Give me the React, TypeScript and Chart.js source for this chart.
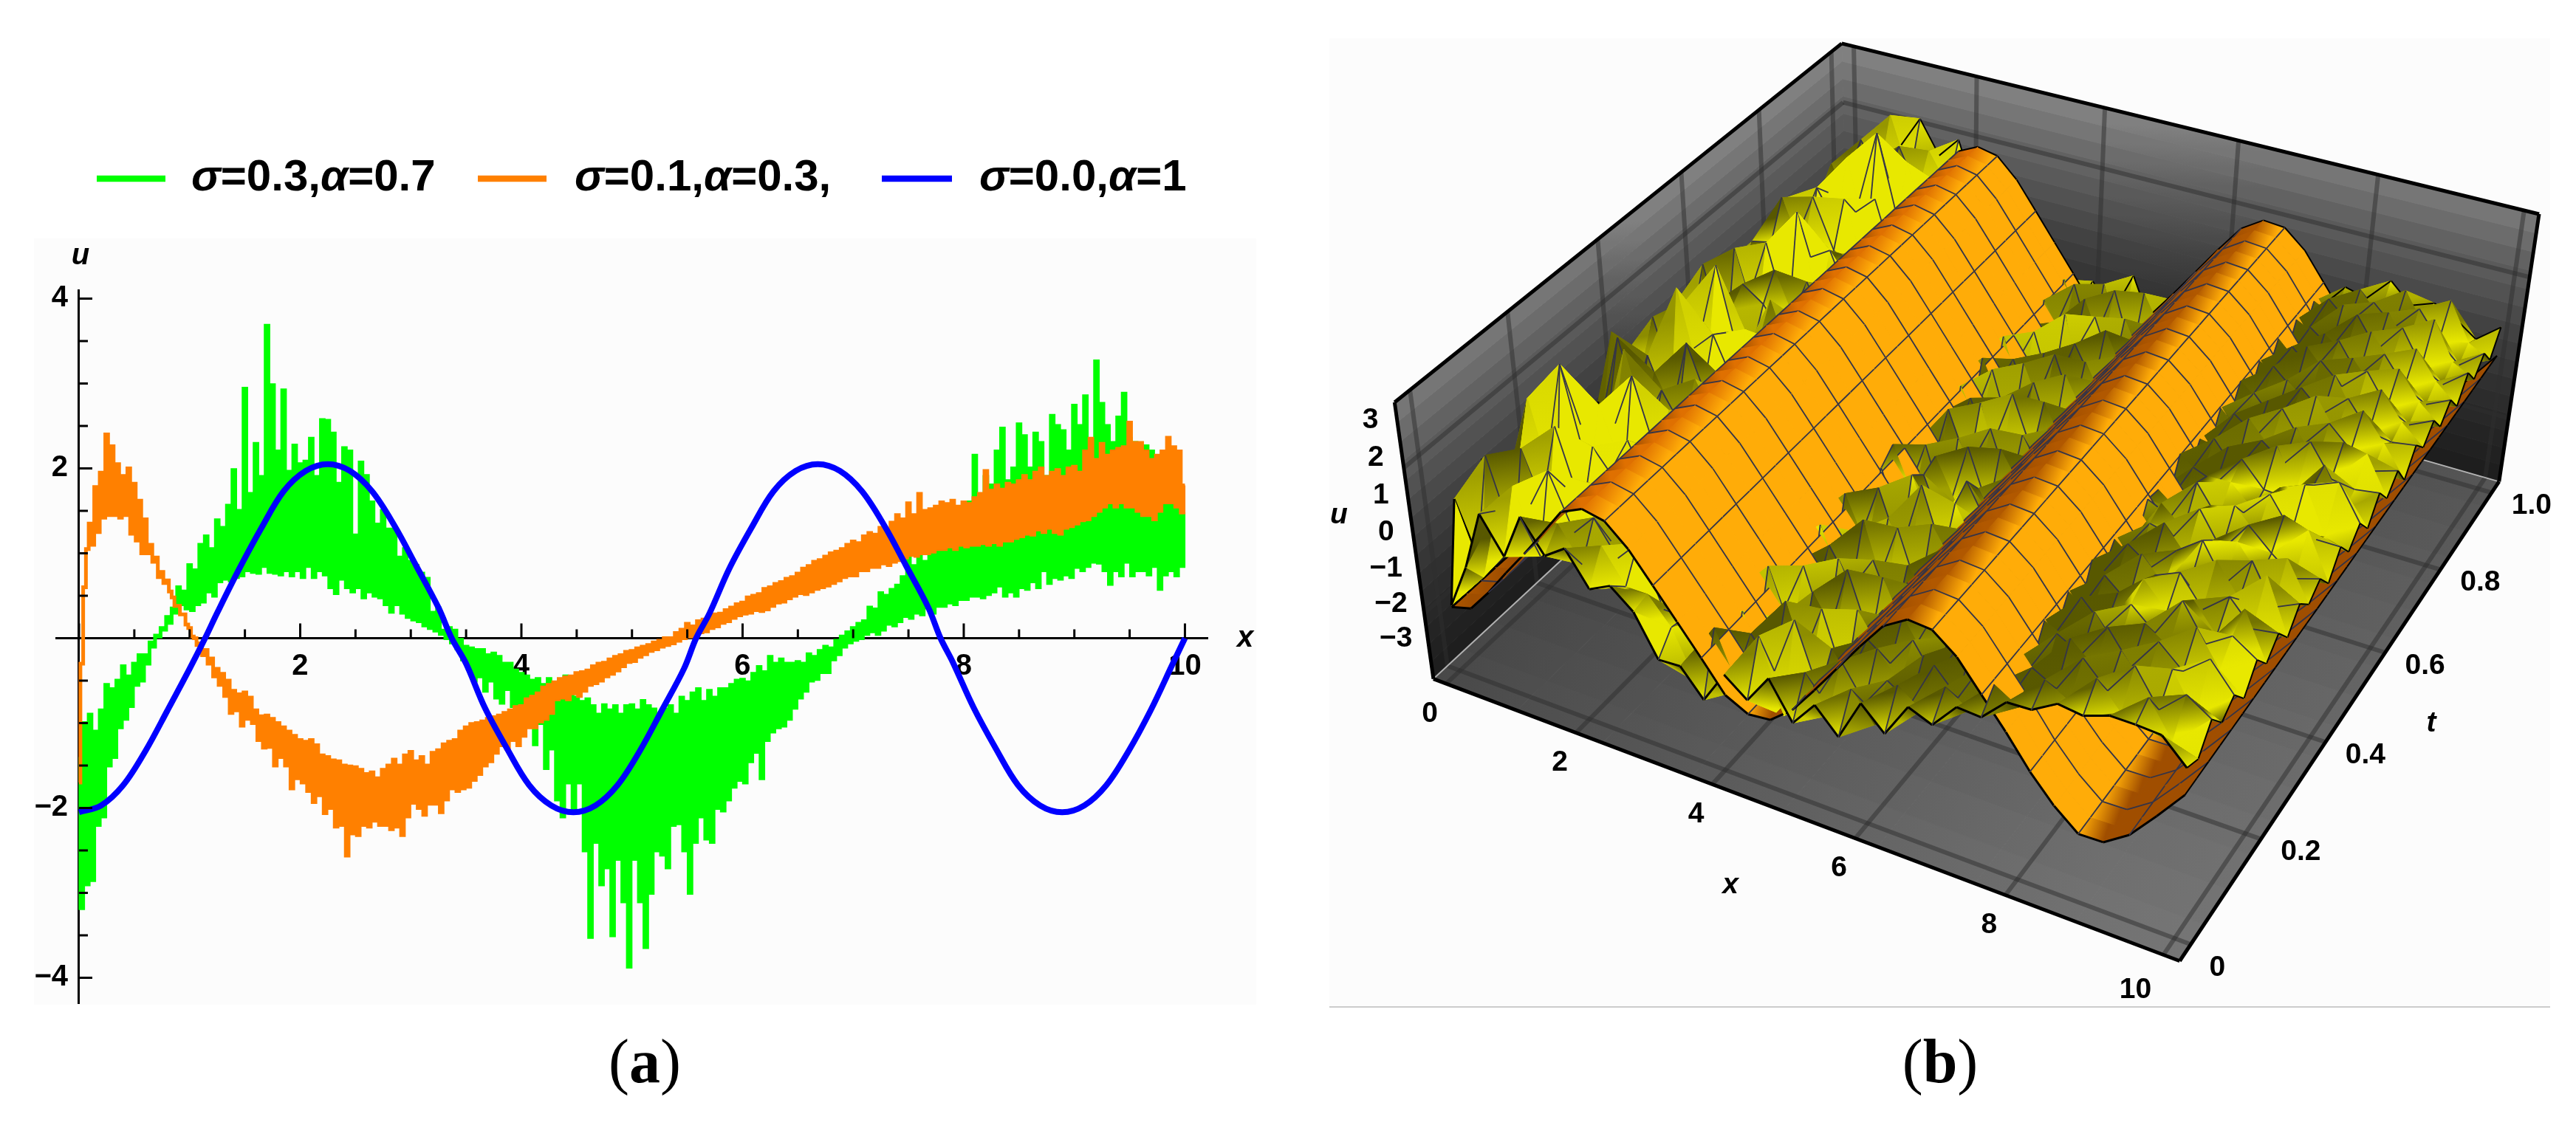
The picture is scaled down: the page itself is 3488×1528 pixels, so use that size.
import { useEffect, useRef } from 'react';
import { Chart, registerables } from 'chart.js';

Chart.register(...registerables);

const FONT = '"Liberation Sans", Arial, sans-serif';
const SERIF = '"Liberation Serif", "Times New Roman", serif';

// ---------- panel (a) data ----------
const sampleStep = 0.025;
const greenValues = [
  -1.4,-3.18,-1.0,-2.9,-.9,-2.85,-1.1,-2.2,-.85,-2.1,-.55,-1.5,-.6,-1.4,-.5,-1.05,-.33,-.95,-.45,-.8,-.3,-.55,-.2,-.5,-.2,-.3,-.05,-.1,.03,.02,.12,.1,.25,.18,.35,.3,.6,.4,.55,.35,
  .86,.33,.8,.4,1.1,.43,1.2,.55,1.05,.5,1.39,.67,1.3,.7,1.56,.68,1.98,.72,1.5,.74,2.94,.8,1.7,.78,2.29,.77,1.9,.85,3.68,.78,2.98,.77,2.2,.75,2.92,.8,1.96,.74,2.27,.8,
  2.05,.72,2.08,.85,2.35,.72,1.9,.8,2.57,.75,2.56,.6,2.41,.53,1.82,.7,2.24,.6,2.2,.55,1.21,.6,2.07,.48,1.91,.55,1.6,.5,1.34,.48,1.5,.4,1.28,.31,1.28,.4,.95,.3,1.05,.25,
  .9,.22,.85,.2,.76,.15,.7,.12,.3,.09,.35,.05,.09,0,.12,-.05,.09,-.12,-.02,-.25,-.1,-.35,-.12,-.5,-.14,-.45,-.14,-.62,-.2,-.5,-.18,-.7,-.22,-.76,-.3,-.6,-.3,-.8,-.38,-.78,
  -.42,-.98,-.45,-.85,-.5,-1.25,-.48,-1.0,-.55,-1.53,-.48,-1.3,-.6,-1.9,-.5,-2.1,-.45,-1.7,-.55,-2.0,-.7,-1.7,-.75,-2.5,-.72,-3.52,-.8,-2.4,-.9,-2.9,-.79,-2.7,-.85,-3.5,-.8,-2.6,-.9,-3.1,-.8,-3.87,
  -.79,-2.6,-.85,-3.1,-.74,-3.64,-.8,-3.0,-.84,-2.5,-.9,-2.55,-.84,-2.7,-.8,-2.2,-.9,-2.18,-.7,-2.5,-.75,-3.0,-.65,-2.4,-.6,-2.1,-.75,-2.36,-.62,-2.4,-.7,-2.0,-.6,-2.03,-.6,-1.9,-.55,-1.75,-.5,-1.67,
  -.49,-1.7,-.52,-1.45,-.42,-1.34,-.34,-1.65,-.4,-1.2,-.22,-1.1,-.3,-1.05,-.25,-1.03,-.3,-.95,-.3,-.82,-.28,-.7,-.3,-.62,-.19,-.5,-.22,-.48,-.15,-.4,-.1,-.4,-.12,-.25,-.03,-.19,.02,-.1,.07,-.05,
  .12,-.02,.17,0,.2,.05,.36,.08,.34,.05,.53,.1,.5,.17,.57,.15,.62,.2,.72,.26,.95,.24,.85,.3,1.0,.28,.9,.36,1.1,.3,1.08,.38,1.25,.38,1.15,.42,1.35,.4,1.3,.46,
  1.5,.46,1.6,.5,2.15,.5,1.5,.48,1.9,.52,1.8,.55,2.2,.62,2.47,.5,1.85,.55,2.0,.5,2.52,.6,2.38,.58,2.0,.67,2.41,.6,2.3,.8,1.9,.65,2.62,.72,2.5,.7,2.44,.75,2.2,.72,
  2.74,.84,2.5,.8,2.85,.85,2.1,.9,3.26,.89,2.76,.8,2.5,.64,2.3,.8,2.6,.74,2.88,.9,2.35,.74,2.3,.8,2.1,.8,2.26,.75,2.2,.85,1.95,.58,1.9,.75,1.85,.8,1.7,.74,1.6,.85,
  1.48,
];
const orangeValues = [
  -1.7,-.3,.6,1.05,1.35,1.1,1.78,1.25,1.95,1.42,2.4,1.45,2.26,1.45,2.05,1.42,1.91,1.45,2.0,1.23,1.82,1.15,1.62,1.0,1.4,1.0,1.1,.9,.95,.72,.78,.65,.68,.55,.48,.38,.38,.28,.28,.16,
  .12,.02,0,-.08,-.06,-.2,-.14,-.3,-.24,-.45,-.36,-.55,-.42,-.68,-.5,-.88,-.62,-.85,-.66,-1.03,-.64,-.95,-.7,-1.0,-.85,-1.2,-.92,-1.29,-.91,-1.28,-.95,-1.5,-1.0,-1.4,-1.05,-1.5,-1.1,-1.77,-1.15,-1.65,
  -1.2,-1.7,-1.22,-1.8,-1.2,-1.93,-1.26,-1.85,-1.38,-2.06,-1.4,-2.0,-1.44,-2.22,-1.45,-2.2,-1.5,-2.56,-1.51,-2.3,-1.52,-2.32,-1.55,-2.2,-1.6,-2.22,-1.58,-2.15,-1.65,-2.2,-1.55,-2.2,-1.5,-2.25,-1.43,-2.22,-1.5,-2.32,-1.38,-2.1,
  -1.34,-1.94,-1.45,-2.0,-1.4,-2.08,-1.5,-1.95,-1.35,-1.95,-1.32,-2.05,-1.25,-1.9,-1.22,-1.77,-1.2,-1.8,-1.1,-1.77,-1.05,-1.75,-1.01,-1.67,-1.0,-1.6,-.98,-1.5,-.95,-1.45,-.93,-1.35,-.91,-1.26,-.88,-1.3,-.85,-1.2,-.81,-1.26,
  -.8,-1.15,-.72,-1.05,-.69,-1.05,-.65,-.98,-.58,-.95,-.55,-.88,-.52,-.72,-.48,-.7,-.46,-.72,-.45,-.65,-.41,-.68,-.4,-.62,-.38,-.55,-.33,-.53,-.3,-.5,-.29,-.45,-.25,-.42,-.22,-.38,-.2,-.33,-.16,-.28,
  -.15,-.27,-.12,-.22,-.1,-.19,-.08,-.15,-.05,-.13,-.03,-.1,0,-.08,0,-.06,.06,-.03,.1,0,.17,.02,.14,.03,.2,.07,.22,.08,.26,.12,.28,.14,.29,.18,.33,.2,.36,.24,.4,.27,
  .42,.29,.48,.3,.5,.33,.52,.32,.58,.34,.6,.38,.64,.42,.66,.43,.7,.47,.72,.5,.76,.53,.82,.52,.85,.55,.9,.58,.92,.6,.96,.62,1.0,.65,1.02,.68,1.05,.72,1.1,.74,
  1.14,.74,1.12,.8,1.2,.8,1.24,.84,1.22,.84,1.3,.88,1.28,.86,1.36,.9,1.45,.92,1.4,.95,1.59,.98,1.45,.97,1.7,1.0,1.5,1.0,1.52,1.02,1.55,1.05,1.6,1.05,1.58,1.08,1.62,1.05,1.55,1.1,
  1.6,1.08,1.58,1.1,1.65,1.1,1.7,1.12,1.97,1.1,1.74,1.13,1.8,1.1,1.75,1.15,1.82,1.15,1.8,1.18,1.85,1.2,1.91,1.23,1.85,1.22,1.95,1.28,2.0,1.25,1.9,1.3,1.95,1.25,1.98,1.23,1.9,1.3,2.0,1.32,
  2.02,1.35,1.95,1.39,2.2,1.4,2.35,1.45,2.1,1.5,2.29,1.55,2.15,1.6,2.2,1.55,2.23,1.6,2.25,1.55,2.54,1.55,2.3,1.5,2.3,1.45,2.2,1.45,2.1,1.4,2.15,1.5,2.2,1.6,2.36,1.6,2.25,1.55,2.2,1.48,
  1.8,
];
const blueX = [0,.2,.4,.6,.8,1,1.14,1.25,1.45,1.65,1.85,2.05,2.25,2.45,2.65,2.85,3.05,3.25,3.37,3.5,3.67,3.87,4.07,4.27,4.47,4.67,4.87,5.07,5.27,5.47,5.58,5.7,5.88,6.08,6.28,6.48,6.68,6.88,7.08,7.28,7.48,7.68,7.79,7.9,8.09,8.29,8.49,8.69,8.89,9.09,9.29,9.49,9.69,9.89,10];
const blueU = [-2.05,-1.97,-1.73,-1.33,-.85,-.36,0,.3,.82,1.3,1.73,1.97,2.05,1.97,1.73,1.33,.85,.36,0,-.3,-.82,-1.3,-1.73,-1.97,-2.05,-1.97,-1.73,-1.33,-.85,-.36,0,.29,.82,1.3,1.73,1.97,2.05,1.97,1.73,1.33,.85,.36,0,-.28,-.82,-1.3,-1.73,-1.97,-2.05,-1.97,-1.73,-1.33,-.85,-.3,0];
const xTicksA = [0,.5,1,1.5,2,2.5,3,3.5,4,4.5,5,5.5,6,6.5,7,7.5,8,8.5,9,9.5,10];
const yTicksA = [-4,-3.5,-3,-2.5,-2,-1.5,-1,-.5,.5,1,1.5,2,2.5,3,3.5,4];
const yLabelsA = [4,2,-2,-4];
const legendNames = ['σ=0.3,α=0.7', 'σ=0.1,α=0.3,', 'σ=0.0,α=1'];
const seriesColors = ['#00ff00', '#ff8000', '#0000ff'];

// ---------- panel (b) data ----------
const gridX = Array.from({ length: 33 }, (_, i) => (i * 10) / 32);
const gridT = Array.from({ length: 33 }, (_, j) => j / 32);
const ridgeProfile = [-2.05,-1.88,-1.22,-.47,.25,1.0,1.77,2.04,1.92,1.38,.62,-.15,-.92,-1.72,-2.03,-1.96,-1.46,-.7,.1,.9,1.65,2.03,1.98,1.5,.75,0,-.82,-1.5,-2.02,-2.0,-1.55,-.8,0];
const noisyMean = [-.6,-.2,.1,.4,.6,.6,.4,.2,0,-.6,-1.2,-1.6,-1.6,-1.5,-1.3,-1.3,-1.4,-1.3,-1.15,-1.0,-.8,-.55,-.3,0,.25,.6,.9,1.1,1.2,1.25,1.25,1.2,1.1];
const noiseGain = [1,1.3,1.4,1.4,1.3,1,1,1,1,1,1,1.2,1.6,1.7,1.7,1.6,1.4,1,1,1,1,1,1,1,.9,.9,.9,.9,.9,.9,.9,1,1];
const rightEdge = [-4,-6,0,-5,-2,-7,-1,-6,-2,-7,-2,-6,-3,-8,-2,-7,-3,-8,-2,-7,-3,-9,-3,-7,-3,-8,-4,-9,-3,-8,-4,-9,-3];
// tenths of u, one row per t
const noisyRows = [
  [-14,-4,6,-3,5,-2,4,-3,2,3,-2,2,-3,2,-2,3,-3,2,-6,4,-4,3,-2,2,-1,2,-1,1,-1,1,1,1,-1],
  [12,-9,4,8,-6,3,-4,5,-2,4,3,-5,7,-3,6,-6,4,-5,3,-6,5,-2,4,-3,4,-4,3,-3,5,-3,4,-5,-8],
  [-8,14,-5,2,9,-3,5,-2,6,-4,2,6,-6,4,-2,8,-3,6,-5,2,-4,6,-3,5,-6,3,-4,5,-3,6,-4,3,2],
  [16,-6,11,-4,3,7,-5,3,-3,5,-2,-4,5,-7,7,-4,3,-6,6,-3,5,-3,6,-2,3,-5,6,-2,4,-4,3,-7,-3],
  [-12,7,-2,12,-5,2,6,-4,4,-2,5,6,-3,2,-5,5,-7,4,-2,5,-6,4,-2,6,-4,4,-3,5,-5,4,-2,4,-9],
  [10,18,-4,5,6,-4,2,5,-3,6,-3,-5,8,-4,4,-2,5,-3,7,-4,2,-5,5,-3,5,-2,5,-6,3,-2,6,-3,4],
  [-6,4,20,-3,-2,8,-3,2,6,-2,4,3,-2,6,-6,7,-4,2,-5,6,-2,4,-4,2,-3,6,-4,3,-4,7,-3,2,-6],
  [14,-10,6,9,-5,2,5,-5,3,5,-4,-6,4,-3,5,-3,6,-6,4,-3,5,-3,6,-4,5,-3,2,6,-2,3,-5,5,-1],
  [-4,12,-6,3,13,-4,3,6,-4,2,4,5,-7,5,-2,4,-5,3,-4,6,-5,6,-2,3,-5,4,-5,3,5,-4,2,-4,-7],
  [8,-5,4,15,-3,6,-5,2,5,-3,-3,-2,6,-4,7,-5,3,-4,6,-2,4,-3,5,-5,6,-2,5,-4,-3,6,-3,6,-2],
  [-10,3,16,-2,5,-3,7,-3,2,6,-2,5,-4,3,-6,5,-6,6,-3,4,-6,5,-3,4,-2,5,-3,2,6,-5,4,-6,-9],
  [5,17,-3,6,-4,8,-2,5,-4,3,4,-6,7,-2,3,-4,6,-2,5,-5,3,-2,5,-3,4,-5,6,-4,2,3,-5,3,-3],
  [-7,-2,8,-5,10,-3,4,-3,6,-2,-2,3,-4,6,-5,8,-3,4,-6,3,-5,6,-4,6,-3,3,-2,6,-5,4,-2,-6,-10],
  [11,5,-4,18,-3,2,6,-4,2,5,-5,6,-2,-4,6,-3,5,-5,2,6,-3,4,-2,3,-6,5,-4,3,4,-3,5,3,-4],
  [-3,13,-5,4,7,-4,3,5,-5,3,3,-4,5,-6,4,-5,7,-2,5,-4,5,-5,4,-3,4,-3,6,-5,-2,5,-4,-3,-11],
  [9,-4,12,-2,5,9,-3,2,4,-3,5,-3,7,-2,5,-2,3,-6,4,-2,3,-3,6,-4,3,-6,4,2,-5,3,6,-6,-4],
  [-6,6,3,16,-4,3,6,-5,3,6,-2,6,-5,5,-7,6,-4,5,-3,6,-5,4,-3,5,-5,4,-2,5,-3,-4,2,5,-12],
  [13,-3,7,5,-3,11,-4,4,-2,4,4,-4,3,-4,4,-3,6,-2,5,-6,2,-2,5,-2,6,-3,5,-4,6,-5,4,-6,-6],
  [-2,15,-4,8,4,-3,5,-3,6,-3,-4,5,-6,7,-3,5,-5,3,-4,4,-4,6,-3,4,-4,5,-6,3,-3,5,-4,-4,-13],
  [7,-5,14,-3,9,-2,3,6,-4,5,3,-5,4,-2,6,-6,4,-6,6,-2,5,-4,4,-5,3,-2,6,-3,4,-6,3,2,-7],
  [-9,8,2,12,-5,7,-4,2,5,-2,-2,6,-7,5,-4,7,-2,5,-3,5,-6,3,-2,6,-4,5,-3,5,-5,3,-3,-6,-11],
  [12,3,-3,6,17,-4,6,-3,3,4,5,-3,5,-3,3,-4,6,-4,4,-5,4,-3,6,-3,5,-5,4,-2,6,-4,5,-2,-8],
  [-4,11,9,-2,5,10,-2,5,-4,6,-4,4,-4,6,-6,5,-5,3,-6,6,-2,5,-4,4,-2,4,-6,4,-3,3,-5,-5,-14],
  [6,-2,16,4,-3,6,-4,3,6,-3,2,-6,6,-2,5,-3,7,-2,4,-3,3,-4,5,-5,6,-3,3,-5,5,-6,4,-3,-9],
  [-8,7,5,13,2,-3,7,-2,2,5,-3,5,-3,4,-5,6,-3,5,-5,5,-5,6,-2,3,-4,5,-4,5,-2,4,-5,-7,-13],
  [10,14,-2,7,11,-4,2,6,-5,3,4,-4,6,-5,3,-5,5,-4,3,-2,4,-3,4,-6,5,-2,6,-3,3,-5,3,-4,-10],
  [-5,4,12,3,6,13,-3,3,5,-3,-5,6,-2,5,-6,4,-2,6,-6,5,-6,5,-3,4,-3,4,-5,4,-6,2,-6,-8,-15],
  [8,-3,9,15,-2,5,8,-4,3,4,3,-3,4,-4,6,-6,7,-3,4,-4,3,-4,6,-2,5,-5,3,-4,4,-4,2,-5,-11],
  [-3,9,6,4,19,2,-3,5,-3,6,-2,5,-6,3,-3,5,-4,4,-5,6,-3,5,-4,5,-6,3,-5,5,-5,3,-7,-9,-14],
  [6,13,2,10,7,15,-2,4,5,-4,5,-5,5,-2,5,-3,5,-6,6,-2,4,-2,5,-3,4,-3,5,-6,3,-6,4,-6,-12],
  [-6,5,14,6,12,4,10,-3,3,5,-3,3,-3,6,-5,6,-5,2,-4,4,-5,6,-3,4,-5,5,-4,2,-5,2,-6,-10,-16],
  [4,10,7,16,3,13,6,6,-4,4,4,-4,5,-4,4,-4,6,-3,5,-5,2,-3,4,-4,3,-4,3,-6,3,-7,3,-7,-13],
  [-2,6,11,8,14,9,17,3,4,-3,2,5,-3,3,-3,5,-3,4,-3,5,-4,3,-3,3,-2,2,-3,2,-5,-3,-6,-9,-14],
];

const xLo = -0.2, xHi = 10.2, tLo = -0.03, tHi = 1.03, uLo = -3.9, uHi = 3.7;
// The box corners are the camera calibration: [x̂, t̂, û] -> page position
const cameraCorners = [
  [0,0,0,1.9435,.913],[1,0,0,2.952,1.305],[0,1,0,2.495,.408],[0,0,1,1.885,.549],
  [1,1,0,3.388,.646],[0,1,1,2.501,.052],[1,1,1,3.433,.294],
];
const xTicksB = [0,2,4,6,8,10];
const tTicksB = [0,.2,.4,.6,.8,1];
const uTicksB = [3,2,1,0,-1,-2,-3];
const wallGray = [128,118,108,98,90,82,74,66,60,54,48,44,40,36,33,30];
const floorGrayFront = [72,78,84,90,96,102,108,114,118];
const floorGrayBack = [60,62,64,66,68,72,76,80,85];

function solveCamera() {
  const A: number[][] = [], b: number[] = [];
  for (const [X, Y, Z, u, v] of cameraCorners) {
    A.push([X,Y,Z,1,0,0,0,0,-u*X,-u*Y,-u*Z]); b.push(u);
    A.push([0,0,0,0,X,Y,Z,1,-v*X,-v*Y,-v*Z]); b.push(v);
  }
  const n = 11;
  const M = Array.from({ length: n }, (_, r) => {
    const row = new Array(n + 1).fill(0);
    for (let c = 0; c < n; c++) for (let k = 0; k < A.length; k++) row[c] += A[k][r] * A[k][c];
    for (let k = 0; k < A.length; k++) row[n] += A[k][r] * b[k];
    row[r] += 1e-9;
    return row;
  });
  for (let c = 0; c < n; c++) {
    let p = c;
    for (let r = c + 1; r < n; r++) if (Math.abs(M[r][c]) > Math.abs(M[p][c])) p = r;
    [M[c], M[p]] = [M[p], M[c]];
    for (let r = 0; r < n; r++) {
      if (r === c) continue;
      const f = M[r][c] / M[c][c];
      for (let k = c; k <= n; k++) M[r][k] -= f * M[c][k];
    }
  }
  return M.map((row, i) => row[n] / row[i]);
}
const cam = solveCamera();
function hat(X: number, Y: number, Z: number) {
  const w = cam[8]*X + cam[9]*Y + cam[10]*Z + 1;
  return { x: 1000*(cam[0]*X + cam[1]*Y + cam[2]*Z + cam[3]) / w, y: 1000*(cam[4]*X + cam[5]*Y + cam[6]*Z + cam[7]) / w };
}
function proj(x: number, t: number, u: number) {
  return hat((x-xLo)/(xHi-xLo), (t-tLo)/(tHi-tLo), (u-uLo)/(uHi-uLo));
}
const clamp = (v: number, a = 0, b = 1) => Math.max(a, Math.min(b, v));
const rgb = (c: number[]) => `rgb(${c.map(Math.round).join(',')})`;
const mix = (a: number[], b: number[], f: number) => a.map((v, i) => v + (b[i] - v) * f);
const gr = (g: number) => [g, g, g];

function orangeShade(s: number) {
  if (s < -0.3) return [255, 172, 8];
  if (s < 0.05) return mix([255,172,8],[253,128,2],(s+.3)/.35);
  if (s < .6) return mix([253,128,2],[165,82,0],(s-.05)/.55);
  return [160, 78, 0];
}
function yellowShade(s1: number, s2: number) {
  const k = clamp(.38 - .5*s1 + .42*s2);
  return mix([88,88,0],[232,232,0],k);
}

const OFFSET_B = 1760;

function buildSurfaceDatasets(ctx: CanvasRenderingContext2D) {
  const drawn: any[] = [];
  const fillPoly = (pts: {x:number,y:number}[], color: any) => drawn.push({
    data: [...pts, pts[0]], showLine: true, fill: 'shape', backgroundColor: color, borderColor: color, borderWidth: 1, pointRadius: 0,
  });
  const stroke = (pts: {x:number,y:number}[], color: string, width: number) => drawn.push({
    data: pts, showLine: true, fill: false, borderColor: color, borderWidth: width, pointRadius: 0,
  });
  const grad = (a: any, b: any, ca: number[], cb: number[]) => {
    const g = ctx.createLinearGradient(a.x-OFFSET_B, a.y, b.x-OFFSET_B, b.y);
    g.addColorStop(0, rgb(ca)); g.addColorStop(1, rgb(cb));
    return g;
  };
  // walls, each band shaded between neighbouring grays
  const nw = wallGray.length - 1;
  const uAt = (k: number) => uLo + (uHi-uLo)*(k/nw);
  for (let k = 0; k < nw; k++) {
    const low = gr(wallGray[nw-k]), high = gr(wallGray[nw-k-1]);
    const la = proj(xLo,tLo,uAt(k)), lb = proj(xLo,tHi,uAt(k)), lc = proj(xLo,tHi,uAt(k+1)), ld = proj(xLo,tLo,uAt(k+1));
    fillPoly([la,lb,lc,ld], grad({x:(la.x+lb.x)/2,y:(la.y+lb.y)/2},{x:(ld.x+lc.x)/2,y:(ld.y+lc.y)/2},low,high));
    const ba = proj(xLo,tHi,uAt(k)), bb = proj(xHi,tHi,uAt(k)), bc = proj(xHi,tHi,uAt(k+1)), bd = proj(xLo,tHi,uAt(k+1));
    fillPoly([ba,bb,bc,bd], grad({x:(ba.x+bb.x)/2,y:(ba.y+bb.y)/2},{x:(bd.x+bc.x)/2,y:(bd.y+bc.y)/2},low,high));
  }
  // floor
  const nf = floorGrayFront.length - 1, nr = 16;
  for (let i = 0; i < nf; i++) for (let j = 0; j < nr; j++) {
    const xa = xLo+(xHi-xLo)*i/nf, xb = xLo+(xHi-xLo)*(i+1)/nf;
    const ta = tLo+(tHi-tLo)*j/nr, tb = tLo+(tHi-tLo)*(j+1)/nr;
    const f = (j+.5)/nr;
    const a = proj(xa,ta,uLo), b = proj(xb,ta,uLo), c = proj(xb,tb,uLo), d = proj(xa,tb,uLo);
    const ga = floorGrayFront[i]+(floorGrayBack[i]-floorGrayFront[i])*f;
    const gb = floorGrayFront[i+1]+(floorGrayBack[i+1]-floorGrayFront[i+1])*f;
    fillPoly([a,b,c,d], grad(a,b,gr(ga),gr(gb)));
  }
  // face grids
  const gridC = 'rgba(45,45,45,0.5)';
  for (const v of xTicksB) {
    stroke([proj(v,tLo,uLo),proj(v,tHi,uLo)], gridC, 6);
    stroke([proj(v,tHi,uLo),proj(v,tHi,uHi)], gridC, 6);
  }
  for (const v of tTicksB) {
    stroke([proj(xLo,v,uLo),proj(xHi,v,uLo)], gridC, 6);
    stroke([proj(xLo,v,uLo),proj(xLo,v,uHi)], gridC, 6);
  }
  for (const v of [-2, 2]) {
    stroke([proj(xLo,tLo,v),proj(xLo,tHi,v)], gridC, 6);
    stroke([proj(xLo,tHi,v),proj(xHi,tHi,v)], gridC, 6);
  }
  // floor back edges and frame
  stroke([proj(xLo,tLo,uLo),proj(xLo,tHi,uLo)], 'rgba(205,205,205,0.8)', 2);
  stroke([proj(xLo,tHi,uLo),proj(xHi,tHi,uLo)], 'rgba(205,205,205,0.8)', 2);
  const frame = [
    [xLo,tLo,uLo,xHi,tLo,uLo],[xHi,tLo,uLo,xHi,tHi,uLo],[xHi,tHi,uLo,xHi,tHi,uHi],
    [xHi,tHi,uHi,xLo,tHi,uHi],[xLo,tHi,uHi,xLo,tLo,uHi],[xLo,tLo,uHi,xLo,tLo,uLo],
  ];
  for (const f of frame) stroke([proj(f[0],f[1],f[2]),proj(f[3],f[4],f[5])], '#000', 5);

  // surfaces, back to front
  const nx = gridX.length - 1, nt = gridT.length - 1;
  const yel = (i: number, j: number) => noisyMean[i] + (i === nx ? rightEdge[j] : (noisyRows[j]?.[i] ?? 0) * noiseGain[i]) / 10;
  const rid = (i: number) => ridgeProfile[i];
  const dx = gridX[1]-gridX[0], dt = gridT[1]-gridT[0];
  const ridSlope = (i: number) => (rid(Math.min(nx,i+1))-rid(Math.max(0,i-1)))/(dx*(Math.min(nx,i+1)-Math.max(0,i-1)));
  const yelShade = (i: number, j: number) => {
    const s1 = (yel(Math.min(nx,i+1),j)-yel(Math.max(0,i-1),j))/(dx*(Math.min(nx,i+1)-Math.max(0,i-1)));
    const s2 = (yel(i,Math.min(nt,j+1))-yel(i,Math.max(0,j-1)))/(dt*(Math.min(nt,j+1)-Math.max(0,j-1)))/10;
    return yellowShade(s1,s2);
  };
  const meshC = 'rgb(52,52,72)';
  const edges = (val: (i:number,j:number)=>number, i: number, j: number) => {
    const P = (a: number, b: number) => proj(gridX[a], gridT[b], val(a,b));
    // lines sit on the back and left edges of a cell, which nothing painted later covers
    if (j === 0) stroke([P(i,0),P(i+1,0)], '#000', 3);
    if ((j+1) % 2 === 0 && j+1 < nt) stroke([P(i,j+1),P(i+1,j+1)], meshC, 1.8);
    if (j === nt-1) stroke([P(i,j+1),P(i+1,j+1)], '#000', 2);
    if (i % 2 === 0) stroke([P(i,j),P(i,j+1)], i === 0 ? '#000' : meshC, i === 0 ? 3 : 1.8);
    if (i === nx-1) stroke([P(i+1,j),P(i+1,j+1)], '#000', 2);
  };
  const drawOrange = (i: number, j: number) => {
    const v = (a: number, _b: number) => rid(a);
    const a = proj(gridX[i],gridT[j],v(i,j)), b = proj(gridX[i+1],gridT[j],v(i+1,j));
    const c = proj(gridX[i+1],gridT[j+1],v(i+1,j+1)), d = proj(gridX[i],gridT[j+1],v(i,j+1));
    fillPoly([a,b,c,d], grad(a,b,orangeShade(ridSlope(i)),orangeShade(ridSlope(i+1))));
    edges(v,i,j);
  };
  const tri = (A: number[], B: number[], C: number[]) => {
    const p = (q: number[]) => proj(gridX[q[0]],gridT[q[1]],yel(q[0],q[1]));
    const pa = p(A), pb = p(B), pc = p(C);
    const mid = { x: (pb.x+pc.x)/2, y: (pb.y+pc.y)/2 };
    fillPoly([pa,pb,pc], grad(pa,mid,yelShade(A[0],A[1]),mix(yelShade(B[0],B[1]),yelShade(C[0],C[1]),.5)));
  };
  const drawYellow = (i: number, j: number) => {
    tri([i,j+1],[i+1,j+1],[i,j]);
    tri([i+1,j],[i,j],[i+1,j+1]);
    edges(yel,i,j);
  };
  for (let j = nt-1; j >= 0; j--) for (let i = 0; i < nx; i++) {
    const mo = (rid(i)+rid(i+1))/2;
    const my = (yel(i,j)+yel(i+1,j)+yel(i,j+1)+yel(i+1,j+1))/4;
    if (mo < my) { drawOrange(i,j); drawYellow(i,j); } else { drawYellow(i,j); drawOrange(i,j); }
  }
  return drawn.reverse(); // Chart.js paints the last dataset first
}

const drawRich = (ctx: any, text: string, x: number, baseline: number, size: number) => {
  let cx = x;
  ctx.textAlign = 'left'; ctx.textBaseline = 'alphabetic';
  for (const ch of text.split(/(?=[σα=])|(?<=[σα])/)) {
    ctx.font = `${/[σα]/.test(ch) ? 'italic ' : ''}bold ${size}px ${FONT}`;
    ctx.fillText(ch, cx, baseline);
    cx += ctx.measureText(ch).width;
  }
};

export default function App() {
  const refA = useRef<HTMLCanvasElement>(null);
  const refB = useRef<HTMLCanvasElement>(null);
  useEffect(() => {
    const panelA = {
      id: 'panelA',
      beforeDraw(c: any) {
        const g = c.ctx; g.save(); g.fillStyle = '#fcfcfc'; g.fillRect(46,323,1655,1038); g.restore();
      },
      afterDatasetsDraw(c: any) {
        const g = c.ctx, X = c.scales.x, Y = c.scales.y;
        g.save(); g.fillStyle = '#000'; g.strokeStyle = '#000'; g.lineWidth = 3;
        const x0 = X.getPixelForValue(0), y0 = Y.getPixelForValue(0);
        for (const v of xTicksA) {
          const p = X.getPixelForValue(v), l = v % 2 === 0 ? 20 : 12;
          g.beginPath(); g.moveTo(p,y0); g.lineTo(p,y0-l); g.stroke();
        }
        for (const v of yTicksA) {
          const p = Y.getPixelForValue(v), l = v % 2 === 0 ? 18 : 12;
          g.beginPath(); g.moveTo(x0,p); g.lineTo(x0+l,p); g.stroke();
        }
        g.font = `bold 40px ${FONT}`; g.textAlign = 'right'; g.textBaseline = 'middle';
        for (const v of yLabelsA) g.fillText(v < 0 ? `−${-v}` : String(v), x0-15, Y.getPixelForValue(v)-1);
        g.textAlign = 'center'; g.textBaseline = 'alphabetic'; g.font = `italic bold 40px ${FONT}`;
        g.fillText('u', 109, 358); g.fillText('x', 1686, 876);
        // legend
        const swatches = [[131,224,259],[647,740,778],[1194,1289,1326]];
        legendNames.forEach((name, i) => {
          g.strokeStyle = seriesColors[i]; g.lineWidth = 8.5;
          g.beginPath(); g.moveTo(swatches[i][0],242); g.lineTo(swatches[i][1],242); g.stroke();
          g.fillStyle = '#000'; drawRich(g, name, swatches[i][2], 258, 60);
        });
        g.textAlign = 'center'; g.textBaseline = 'alphabetic';
        const wA = (s: string, b: boolean) => { g.font = `${b?'bold ':''}84px ${SERIF}`; return g.measureText(s).width; };
        const tot = wA('(',false)+wA('a',true)+wA(')',false);
        let cx = 873 - tot/2; g.textAlign = 'left';
        for (const [s,b] of [['(',false],['a',true],[')',false]] as any) {
          wA(s,b); g.fillText(s,cx,1466); cx += g.measureText(s).width;
        }
        g.restore();
      },
    };
    const xs = greenValues.map((_, i) => i * sampleStep);
    const chartA = new Chart(refA.current!, {
      type: 'line',
      data: {
        datasets: [
          { label: legendNames[0], data: greenValues.map((y,i)=>({x:xs[i],y})), borderColor: seriesColors[0], borderWidth: 5, pointRadius: 0, stepped: 'middle', order: 3, borderJoinStyle: 'miter' },
          { label: legendNames[1], data: orangeValues.map((y,i)=>({x:xs[i],y})), borderColor: seriesColors[1], borderWidth: 5, pointRadius: 0, stepped: 'middle', order: 2, borderJoinStyle: 'miter' },
          { label: legendNames[2], data: blueU.map((y,i)=>({x:blueX[i],y})), borderColor: seriesColors[2], borderWidth: 8, pointRadius: 0, tension: 0.35, order: 1 },
        ],
      } as any,
      options: {
        animation: false, responsive: false, devicePixelRatio: 1, events: [],
        layout: { padding: { left: 76, right: 125, top: 393, bottom: 169 } },
        plugins: { legend: { display: false }, tooltip: { enabled: false } },
        scales: {
          x: {
            type: 'linear', min: -0.207, max: 10.204, position: { y: 0 } as any,
            afterBuildTicks: (a: any) => { a.ticks = xTicksA.map(value => ({ value })); },
            border: { display: true, color: '#000', width: 3 },
            grid: { display: true, drawOnChartArea: false, drawTicks: false, tickLength: 0 },
            ticks: {
              autoSkip: false, maxRotation: 0, padding: 14, color: '#000',
              font: { family: FONT, weight: 'bold', size: 40 },
              callback: (v: any) => (v !== 0 && v % 2 === 0 ? String(v) : ''),
            },
          },
          y: {
            type: 'linear', min: -4.3, max: 4.1, position: { x: 0 } as any,
            border: { display: true, color: '#000', width: 3 },
            grid: { display: true, drawOnChartArea: false, drawTicks: false, tickLength: 0 },
            ticks: { display: false },
          },
        },
      } as any,
      plugins: [panelA],
    });

    const canvasB = refB.current!;
    const ctxB = canvasB.getContext('2d')!;
    const panelB = {
      id: 'panelB',
      beforeDraw(c: any) {
        const g = c.ctx; g.save(); g.fillStyle = '#fcfcfc'; g.fillRect(1800-OFFSET_B,52,1653,1312);
        g.fillStyle = '#cccccc'; g.fillRect(1800-OFFSET_B,1363,1653,2); g.restore();
      },
      afterDraw(c: any) {
        const g = c.ctx, X = c.scales.x, Y = c.scales.y;
        const put = (s: string, p: {x:number,y:number}, dx: number, dy: number) => g.fillText(s, X.getPixelForValue(p.x+dx), Y.getPixelForValue(p.y+dy));
        g.save(); g.fillStyle = '#000'; g.textAlign = 'center'; g.textBaseline = 'middle';
        g.font = `bold 39px ${FONT}`;
        for (const v of xTicksB) put(String(v), proj(v,tLo,uLo), v === 10 ? -38 : -22, v === 10 ? 48 : 41);
        for (const v of tTicksB) put(v === 0 ? '0' : v === 1 ? '1.0' : v.toFixed(1), proj(xHi,v,uLo), v === 0 ? 36 : 54, v === 0 ? 32 : 18);
        for (const v of uTicksB) put(v < 0 ? `−${-v}` : String(v), proj(xLo,tLo,v), v < 0 ? -45 : -38, -13);
        g.font = `italic bold 39px ${FONT}`;
        g.fillText('x', X.getPixelForValue(2343), Y.getPixelForValue(1199));
        g.fillText('t', X.getPixelForValue(3292), Y.getPixelForValue(980));
        g.fillText('u', X.getPixelForValue(1813), Y.getPixelForValue(698));
        const parts: any = [['(',false],['b',true],[')',false]];
        const w = (s: string, b: boolean) => { g.font = `${b?'bold ':''}84px ${SERIF}`; return g.measureText(s).width; };
        let cx = X.getPixelForValue(2627) - parts.reduce((a: number, p: any) => a + w(p[0],p[1]), 0)/2;
        g.textAlign = 'left'; g.textBaseline = 'alphabetic';
        for (const p of parts) { w(p[0],p[1]); g.fillText(p[0],cx,1466); cx += g.measureText(p[0]).width; }
        g.restore();
      },
    };
    const chartB = new Chart(canvasB, {
      type: 'scatter',
      data: { datasets: buildSurfaceDatasets(ctxB) },
      options: {
        animation: false, responsive: false, devicePixelRatio: 1, events: [], parsing: false,
        layout: { padding: 0 },
        plugins: { legend: { display: false }, tooltip: { enabled: false } },
        scales: {
          x: { type: 'linear', display: false, min: OFFSET_B, max: 3488 },
          y: { type: 'linear', display: false, min: 0, max: 1528, reverse: true },
        },
      } as any,
      plugins: [panelB],
    });
    return () => { chartA.destroy(); chartB.destroy(); };
  }, []);
  return (
    <div style={{ position: 'absolute', left: 0, top: 0, width: 3488, height: 1528, background: '#fff', overflow: 'hidden' }}>
      <canvas ref={refA} width={1760} height={1528} style={{ position: 'absolute', left: 0, top: 0, width: 1760, height: 1528 }} />
      <canvas ref={refB} width={1728} height={1528} style={{ position: 'absolute', left: 1760, top: 0, width: 1728, height: 1528 }} />
    </div>
  );
}
